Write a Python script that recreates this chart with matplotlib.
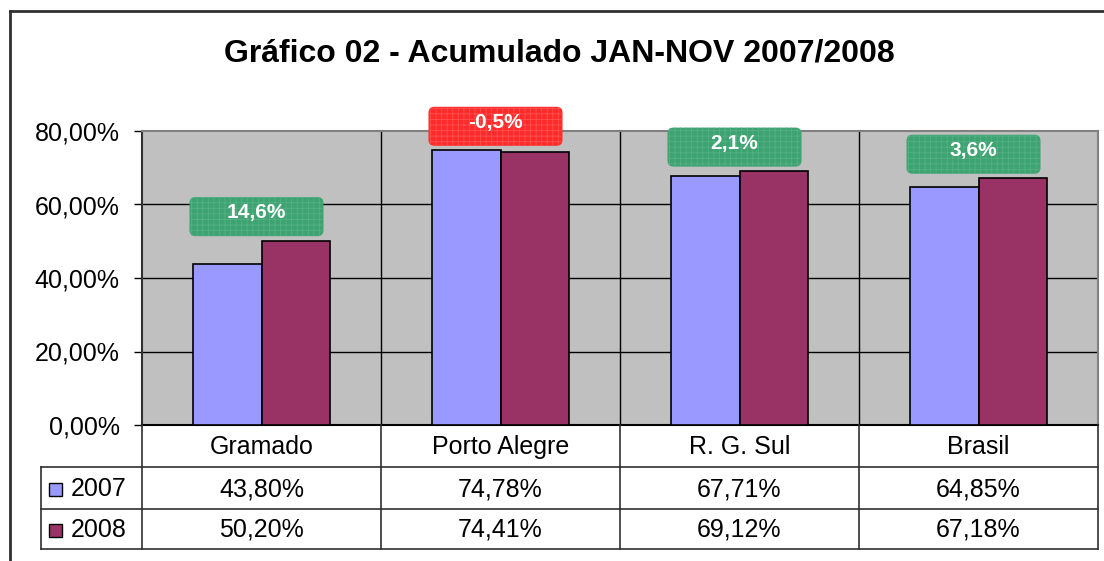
import numpy as np
import matplotlib.pyplot as plt
from matplotlib.patches import FancyBboxPatch, Rectangle

plt.rcParams['font.family'] = ['Liberation Sans', 'DejaVu Sans']
plt.rcParams['hatch.linewidth'] = 0.6

categories = ['Gramado', 'Porto Alegre', 'R. G. Sul', 'Brasil']
series = ['2007', '2008']
v2007 = [43.80, 74.78, 67.71, 64.85]
v2008 = [50.20, 74.41, 69.12, 67.18]
colors = ['#9999FF', '#993366']

W, H = 1104, 561
fig = plt.figure(figsize=(W / 100, H / 100), dpi=100)

# plot area in pixels: x 142..1098, y 131..425
ax = fig.add_axes([142 / W, 1 - 425 / H, 956 / W, 294 / H])
ax.set_facecolor('#C0C0C0')
x = np.arange(len(categories))
bw = 0.285
ax.bar(x - bw / 2, v2007, bw, color=colors[0], edgecolor='black', linewidth=1.2, zorder=3)
ax.bar(x + bw / 2, v2008, bw, color=colors[1], edgecolor='black', linewidth=1.2, zorder=3)
ax.set_xlim(-0.5, len(categories) - 0.5)
ax.set_ylim(0, 80)
yt = [0, 20, 40, 60, 80]
ax.set_yticks(yt)
ax.set_yticklabels([('%.2f%%' % t).replace('.', ',') for t in yt])
ax.tick_params(axis='y', length=6, width=1, pad=10, labelsize=18)
ax.set_xticks([])
for t in [20, 40, 60]:
    ax.axhline(t, color='black', lw=1, zorder=1)
for b in np.arange(0.5, len(categories) - 1, 1):
    ax.axvline(b, color='black', lw=1, zorder=1)
ax.spines['left'].set_color('#303030')
ax.spines['bottom'].set_color('black')
ax.spines['top'].set_color('#808080')
ax.spines['right'].set_color('#808080')
for s in ax.spines.values():
    s.set_linewidth(1.5)

# overlay in pixel coords
ov = fig.add_axes([0, 0, 1, 1], zorder=5)
ov.set_xlim(0, W)
ov.set_ylim(H, 0)
ov.axis('off')
ov.patch.set_alpha(0)

def to_px(xd, yd):
    dx, dy = ax.transData.transform((xd, yd))
    return dx, H - dy

# outer frame
ov.plot([10, W], [11, 11], color='#303030', lw=2)
ov.plot([10, 10], [11, H], color='#303030', lw=2)

fig.text(0.507, 1 - 54 / H, 'Gráfico 02 - Acumulado JAN-NOV 2007/2008',
         ha='center', va='center', fontsize=23, fontweight='bold')

# change labels
for i in range(len(categories)):
    ch = (v2008[i] / v2007[i] - 1) * 100
    cx, cy = to_px(i, max(v2007[i], v2008[i]) + 6.5)
    cx -= 5
    fc = '#FF2A2A' if ch < 0 else '#3DA370'
    hc = '#FF5050' if ch < 0 else '#55B084'
    bwid, bht = 134, 39
    box = FancyBboxPatch((cx - bwid / 2, cy - bht / 2), bwid, bht,
                         boxstyle='round,pad=0,rounding_size=6',
                         facecolor=fc, edgecolor=hc, linewidth=0, hatch='+++')
    ov.add_patch(box)
    ov.text(cx, cy - 4, ('%.1f%%' % ch).replace('.', ','), ha='center', va='center',
            color='white', fontsize=15, fontweight='bold')

# data table
xl, xr = 142, 1098
col_left = 41
rows_y = [425, 467, 509, 549]
bounds = [to_px(b, 0)[0] for b in np.arange(-0.5, len(categories), 1)]
ov.plot([xl, xl], [425, 549], color='#303030', lw=1.2)
for bx in bounds[1:-1]:
    ov.plot([bx, bx], [425, 549], color='#303030', lw=1.2)
ov.plot([xr, xr], [425, 549], color='#303030', lw=1.2)
ov.plot([col_left, col_left], [467, 549], color='#303030', lw=1.2)
for ry in rows_y[1:]:
    ov.plot([col_left, xr], [ry, ry], color='#303030', lw=1.2)

for i, c in enumerate(categories):
    cx = to_px(i, 0)[0]
    ov.text(cx, 447, c, ha='center', va='center', fontsize=18)
    ov.text(cx, 489, ('%.2f%%' % v2007[i]).replace('.', ','), ha='center', va='center', fontsize=18)
    ov.text(cx, 530, ('%.2f%%' % v2008[i]).replace('.', ','), ha='center', va='center', fontsize=18)

for j, (s, col) in enumerate(zip(series, colors)):
    yc = [489, 530][j]
    ov.add_patch(Rectangle((49, yc - 6), 13, 13, facecolor=col, edgecolor='black', lw=1))
    ov.text(71, yc, s, ha='left', va='center', fontsize=18)

fig.savefig('out.png', dpi=100)
